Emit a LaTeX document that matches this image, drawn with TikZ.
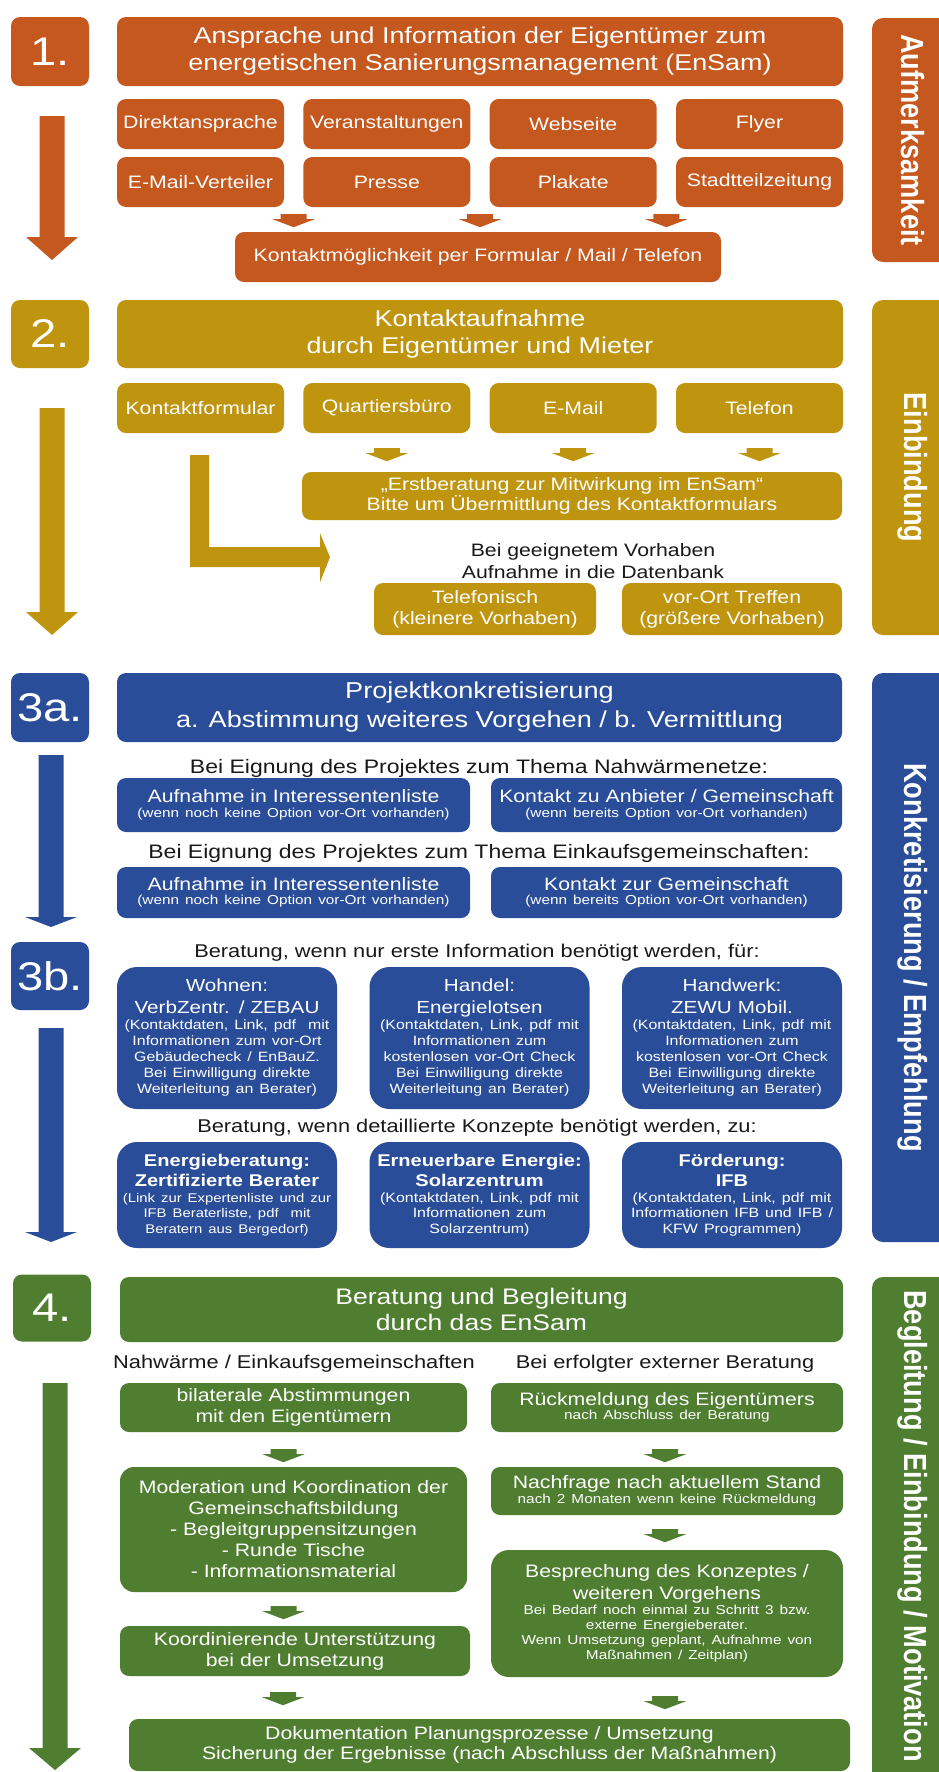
\documentclass[tikz,border=0pt]{standalone}
\usepackage{fontspec}
\setmainfont{Liberation Sans}[FakeStretch=1.18]
\newfontfamily\sidefont{Liberation Sans}[FakeStretch=0.85]
\usetikzlibrary{calc}

\definecolor{cOr}{RGB}{196,88,30}
\definecolor{cGo}{RGB}{191,148,14}
\definecolor{cBl}{RGB}{42,77,153}
\definecolor{cGr}{RGB}{80,126,49}
\definecolor{ink}{RGB}{25,25,25}

% small explanatory lines inside boxes
\newcommand\smtxt{\fontsize{13}{14.5}\selectfont}
% short block arrow centred on a point
\newcommand\sarr[2]{\fill[#1] ($(#2)+(-13,-6)$) -- ++(26,0) -- ++(0,5) -- ++(8,0) -- ++(-21,8) -- ++(-21,-8) -- ++(8,0) -- cycle;}
% long block arrow of the left column: colour, start, tip, head length
\newcommand\barr[4]{\fill[#1] ($(#2)+(-12.5,0)$) -- ($(#2)+(12.5,0)$) -- ($(#3)+(12.5,-#4)$) -- ($(#3)+(26,-#4)$) -- (#3) -- ($(#3)+(-26,-#4)$) -- ($(#3)+(-12.5,-#4)$) -- cycle;}

\tikzset{
  box/.style={rounded corners=9pt, inner sep=0pt, text=white, align=center,
              font=\fontsize{18}{21}\selectfont},
  numbox/.style={box, minimum width=78pt, minimum height=69pt,
                 font=\fontsize{40}{40}\selectfont},
  head/.style={box, font=\fontsize{22.8}{27}\selectfont},
  chan/.style={box, minimum width=167pt, minimum height=50pt},
  sidebg/.style={rounded corners=11pt, inner sep=0pt, minimum width=96pt},
  sidelabel/.style={rotate=-90, inner sep=0pt, text=white,
                    font=\sidefont\bfseries\fontsize{32}{32}\selectfont},
  note/.style={inner sep=0pt, text=ink, align=center,
               font=\fontsize{18.5}{22}\selectfont},
  card/.style={box, rounded corners=20pt, fill=cBl, minimum width=220pt, text width=218pt},
}

\begin{document}
\begin{tikzpicture}[x=1pt,y=-1pt]
\useasboundingbox (0,0) rectangle (939,1772);
\clip (0,0) rectangle (939,1772);
\fill[white] (0,0) rectangle (939,1772);

% ---------------- 1. Aufmerksamkeit ----------------
\node[numbox, fill=cOr] (n1) at (50,51.5) {1.};
\node[head, fill=cOr, minimum width=726pt, minimum height=69pt] (t1) at (480,51.5)
  {Ansprache und Information der Eigentümer zum\\energetischen Sanierungsmanagement (EnSam)};
\node[sidebg, fill=cOr, minimum height=244pt] (s1) at (920,140) {};
\node[sidelabel] (l1) at (913,140) {Aufmerksamkeit};

\node[chan, fill=cOr] (a1) at (200.5,124) {Direktansprache};
\node[chan, fill=cOr] (a2) at (386.8,124) {Veranstaltungen};
\node[chan, fill=cOr] (a3) at (573.2,124) {Webseite};
\node[chan, fill=cOr] (a4) at (759.5,124) {Flyer};
\node[chan, fill=cOr] (b1) at (200.5,182) {E-Mail-Verteiler};
\node[chan, fill=cOr] (b2) at (386.8,182) {Presse};
\node[chan, fill=cOr] (b3) at (573.2,182) {Plakate};
\node[chan, fill=cOr] (b4) at (759.5,182) {Stadtteilzeitung};
\node[box, fill=cOr, minimum width=486pt, minimum height=50pt] (k1) at (478,257)
  {Kontaktmöglichkeit per Formular / Mail / Telefon};

\coordinate (ar1) at ($(b1.south east)!.5!(b2.south west)+(0,13)$);
\coordinate (ar2) at ($(b2.south east)!.5!(b3.south west)+(0,13)$);
\coordinate (ar3) at ($(b3.south east)!.5!(b4.south west)+(0,13)$);
\sarr{cOr}{ar1}\sarr{cOr}{ar2}\sarr{cOr}{ar3}

\coordinate (p1s) at (52,116); \coordinate (p1e) at (52,260);
\barr{cOr}{p1s}{p1e}{23}

% ---------------- 2. Einbindung ----------------
\node[numbox, fill=cGo, minimum height=68pt] (n2) at (50,334) {2.};
\node[head, fill=cGo, minimum width=726pt, minimum height=68pt] (t2) at (480,334)
  {Kontaktaufnahme\\durch Eigentümer und Mieter};
\node[sidebg, fill=cGo, minimum height=335pt] (s2) at (920,467.5) {};
\node[sidelabel] (l2) at (913,467.5) {Einbindung};

\node[chan, fill=cGo] (kf) at (200.5,408) {Kontaktformular};
\node[chan, fill=cGo] (qb) at (386.8,408) {Quartiersbüro};
\node[chan, fill=cGo] (ml) at (573.2,408) {E-Mail};
\node[chan, fill=cGo] (tf) at (759.5,408) {Telefon};
\node[box, fill=cGo, minimum width=540pt, minimum height=48pt,
      font=\fontsize{18}{20}\selectfont] (eb) at (572,496)
  {„Erstberatung zur Mitwirkung im EnSam“\\Bitte um Übermittlung des Kontaktformulars};

\coordinate (ar4) at ($(qb.south)+(0,21)$);
\coordinate (ar5) at ($(ml.south)+(0,21)$);
\coordinate (ar6) at ($(tf.south)+(0,21)$);
\sarr{cGo}{ar4}\sarr{cGo}{ar5}\sarr{cGo}{ar6}

\node[note, font=\fontsize{18}{22}\selectfont] (db) at (593,561)
  {Bei geeignetem Vorhaben\\Aufnahme in die Datenbank};
\coordinate (L0) at ($(kf.south)+(-10.5,22)$);
\fill[cGo] (L0) -- ++(19,0) -- ++(0,92) -- ++(111,0) -- ++(0,-14) -- ++(10,24)
  -- ++(-10,25) -- ++(0,-15) -- ++(-130,0) -- cycle;

\node[box, fill=cGo, minimum width=222pt, minimum height=52pt] (tel) at (485,609)
  {Telefonisch\\(kleinere Vorhaben)};
\node[box, fill=cGo, minimum width=220pt, minimum height=52pt] (vot) at (732,609)
  {vor-Ort Treffen\\(größere Vorhaben)};

\coordinate (p2s) at (52,408); \coordinate (p2e) at (52,635);
\barr{cGo}{p2s}{p2e}{23}

% ---------------- 3a. Konkretisierung ----------------
\node[numbox, fill=cBl] (n3a) at (50,707.5) {3a.};
\node[head, fill=cBl, minimum width=725pt, minimum height=69pt,
      font=\fontsize{23}{29}\selectfont] (t3) at (479.5,707.5)
  {Projektkonkretisierung\\a. Abstimmung weiteres Vorgehen / b. Vermittlung};
\node[sidebg, fill=cBl, minimum height=569pt] (s3) at (920,957.5) {};
\node[sidelabel] (l3) at (913,957.5) {Konkretisierung / Empfehlung};

\node[note, font=\fontsize{19.5}{22}\selectfont] (e1) at (479,768)
  {Bei Eignung des Projektes zum Thema Nahwärmenetze:};
\node[box, fill=cBl, minimum width=353pt, minimum height=54pt, text width=345pt] (i1) at (293.5,805)
  {Aufnahme in Interessentenliste\\\smtxt(wenn noch keine Option vor-Ort vorhanden)\par};
\node[box, fill=cBl, minimum width=351pt, minimum height=54pt, text width=345pt] (i2) at (666.5,805)
  {Kontakt zu Anbieter / Gemeinschaft\\\smtxt(wenn bereits Option vor-Ort vorhanden)\par};
\node[note, font=\fontsize{19.5}{22}\selectfont] (e2) at (479,853)
  {Bei Eignung des Projektes zum Thema Einkaufsgemeinschaften:};
\node[box, fill=cBl, minimum width=353pt, minimum height=51pt, text width=345pt] (i3) at (293.5,892.5)
  {Aufnahme in Interessentenliste\\\smtxt(wenn noch keine Option vor-Ort vorhanden)\par};
\node[box, fill=cBl, minimum width=351pt, minimum height=51pt, text width=345pt] (i4) at (666.5,892.5)
  {Kontakt zur Gemeinschaft\\\smtxt(wenn bereits Option vor-Ort vorhanden)\par};

\coordinate (p3s) at (51,755); \coordinate (p3e) at (51,927);
\barr{cBl}{p3s}{p3e}{10}

% ---------------- 3b. Empfehlung ----------------
\node[numbox, fill=cBl, minimum height=68pt] (n3b) at (50,976) {3b.};
\node[note] (e3) at (477,953)
  {Beratung, wenn nur erste Information benötigt werden, für:};
\node[card, minimum height=142pt] (wo) at (227,1038)
  {\fontsize{17.5}{22}\selectfont Wohnen:\\VerbZentr. / ZEBAU\\\fontsize{13.5}{16}\selectfont
   (Kontaktdaten, Link, pdf~~mit\\Informationen zum vor-Ort\\Gebäudecheck / EnBauZ.\\Bei Einwilligung direkte\\Weiterleitung an Berater)\par};
\node[card, minimum height=142pt] (ha) at (479.5,1038)
  {\fontsize{17.5}{22}\selectfont Handel:\\Energielotsen\\\fontsize{13.5}{16}\selectfont
   (Kontaktdaten, Link, pdf mit\\Informationen zum\\kostenlosen vor-Ort Check\\Bei Einwilligung direkte\\Weiterleitung an Berater)\par};
\node[card, minimum height=142pt] (hw) at (732,1038)
  {\fontsize{17.5}{22}\selectfont Handwerk:\\ZEWU Mobil.\\\fontsize{13.5}{16}\selectfont
   (Kontaktdaten, Link, pdf mit\\Informationen zum\\kostenlosen vor-Ort Check\\Bei Einwilligung direkte\\Weiterleitung an Berater)\par};
\node[note] (e4) at (477,1128)
  {Beratung, wenn detaillierte Konzepte benötigt werden, zu:};
\node[card, minimum height=106pt] (en) at (227,1195)
  {\bfseries\fontsize{17}{20}\selectfont Energieberatung:\\Zertifizierte Berater\\\mdseries\fontsize{12.6}{15.5}\selectfont
   (Link zur Expertenliste und zur\\IFB Beraterliste, pdf~~mit\\Beratern aus Bergedorf)\par};
\node[card, minimum height=106pt] (ee) at (479.5,1195)
  {\bfseries\fontsize{17}{20}\selectfont Erneuerbare Energie:\\Solarzentrum\\\mdseries\fontsize{13.5}{15.5}\selectfont
   (Kontaktdaten, Link, pdf mit\\Informationen zum\\Solarzentrum)\par};
\node[card, minimum height=106pt] (fo) at (732,1195)
  {\bfseries\fontsize{17}{20}\selectfont Förderung:\\IFB\\\mdseries\fontsize{13.5}{15.5}\selectfont
   (Kontaktdaten, Link, pdf mit\\Informationen IFB und IFB /\\KFW Programmen)\par};

\coordinate (p4s) at (51,1028); \coordinate (p4e) at (51,1242);
\barr{cBl}{p4s}{p4e}{10}

% ---------------- 4. Begleitung ----------------
\node[numbox, fill=cGr, minimum height=67pt] (n4) at (52,1308) {4.};
\node[head, fill=cGr, minimum width=723pt, minimum height=65pt,
      font=\fontsize{22.5}{26}\selectfont] (t4) at (481.5,1309.5)
  {Beratung und Begleitung\\durch das EnSam};
\node[sidebg, fill=cGr, minimum height=523pt] (s4) at (920,1538.5) {};
\node[sidelabel] (l4) at (913,1526) {Begleitung / Einbindung / Motivation};

\node[note] (e5) at (294,1364) {Nahwärme / Einkaufsgemeinschaften};
\node[note] (e6) at (665,1364) {Bei erfolgter externer Beratung};

\node[box, fill=cGr, minimum width=347pt, minimum height=49pt] (bil) at (293.5,1407.5)
  {bilaterale Abstimmungen\\mit den Eigentümern};
\node[box, fill=cGr, minimum width=352pt, minimum height=49pt, text width=345pt] (rue) at (667,1407.5)
  {Rückmeldung des Eigentümers\\\smtxt nach Abschluss der Beratung\par};
\node[box, rounded corners=14pt, fill=cGr, minimum width=347pt, minimum height=125pt] (mod) at (293.5,1529.5)
  {Moderation und Koordination der\\Gemeinschaftsbildung\\- Begleitgruppensitzungen\\- Runde Tische\\- Informationsmaterial};
\node[box, fill=cGr, minimum width=352pt, minimum height=48pt, text width=345pt] (nach) at (667,1491)
  {Nachfrage nach aktuellem Stand\\\smtxt nach 2 Monaten wenn keine Rückmeldung\par};
\node[box, rounded corners=18pt, fill=cGr, minimum width=352pt, minimum height=127pt, text width=345pt] (bes) at (667,1613.5)
  {\fontsize{18}{22}\selectfont Besprechung des Konzeptes /\\weiteren Vorgehens\\\fontsize{13}{15}\selectfont
   Bei Bedarf noch einmal zu Schritt 3 bzw.\\externe Energieberater.\\Wenn Umsetzung geplant, Aufnahme von\\Maßnahmen / Zeitplan)\par};
\node[box, fill=cGr, minimum width=350pt, minimum height=50pt] (koo) at (295,1651)
  {Koordinierende Unterstützung\\bei der Umsetzung};
\node[box, fill=cGr, minimum width=721pt, minimum height=52pt, font=\fontsize{18}{20}\selectfont] (fin) at (489.5,1745)
  {Dokumentation Planungsprozesse / Umsetzung\\Sicherung der Ergebnisse (nach Abschluss der Maßnahmen)};

\coordinate (ar7) at ($(bil.south)+(-10,23)$);
\coordinate (ar8) at ($(rue.south)+(-2,23)$);
\coordinate (ar9) at ($(nach.south)+(-2,20)$);
\coordinate (ar10) at ($(mod.south)+(-10,20)$);
\coordinate (ar11) at ($(koo.south)+(-12,22)$);
\coordinate (ar12) at ($(bes.south)+(-2,25)$);
\sarr{cGr}{ar7}\sarr{cGr}{ar8}\sarr{cGr}{ar9}\sarr{cGr}{ar10}\sarr{cGr}{ar11}\sarr{cGr}{ar12}

\coordinate (p5s) at (55,1383); \coordinate (p5e) at (55,1770);
\barr{cGr}{p5s}{p5e}{22}
\end{tikzpicture}
\end{document}
